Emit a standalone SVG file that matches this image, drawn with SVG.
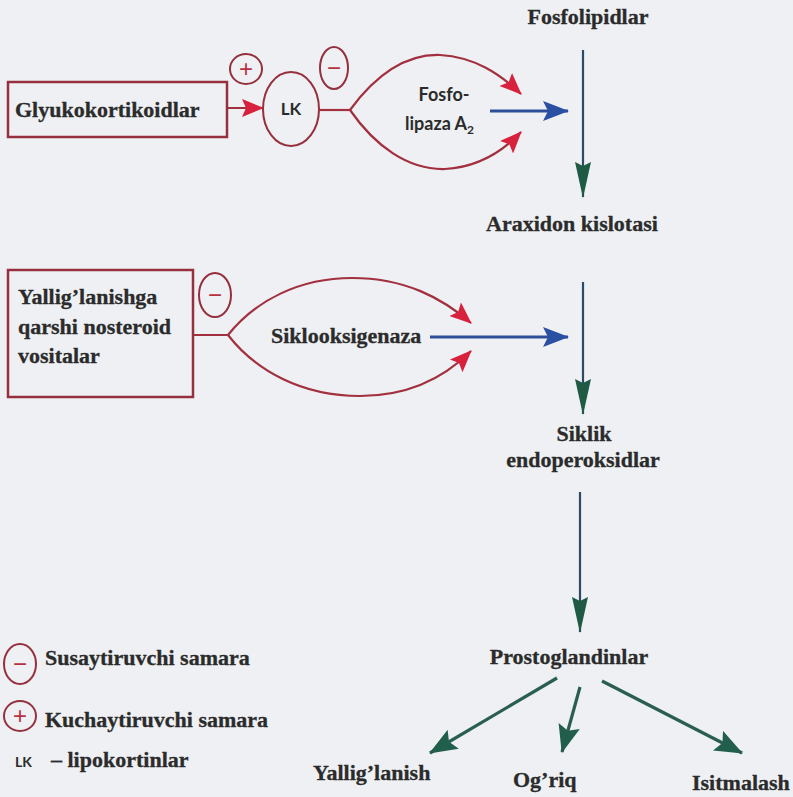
<svg xmlns="http://www.w3.org/2000/svg" width="793" height="797" viewBox="0 0 793 797">
  <defs>
    <marker id="redHead" markerUnits="userSpaceOnUse" viewBox="0 0 22 18" markerWidth="22" markerHeight="18" refX="21" refY="9" orient="auto">
      <path d="M0,0 L22,9 L0,18 L4,9 z" fill="#d8213c"/>
    </marker>
    <marker id="blueHead" markerUnits="userSpaceOnUse" viewBox="0 0 26 20" markerWidth="26" markerHeight="20" refX="25" refY="10" orient="auto">
      <path d="M0,0 L26,10 L0,20 L5,10 z" fill="#2a4fa3"/>
    </marker>
    <marker id="vHead" markerUnits="userSpaceOnUse" viewBox="0 0 36 16" markerWidth="36" markerHeight="16" refX="35" refY="8" orient="auto">
      <path d="M0,0 L36,8 L0,16 L4,8 z" fill="#1e5a44"/>
    </marker>
    <marker id="gHead" markerUnits="userSpaceOnUse" viewBox="0 0 28 22" markerWidth="28" markerHeight="22" refX="27" refY="11" orient="auto">
      <path d="M0,0 L28,11 L0,22 L5,11 z" fill="#225e4c"/>
    </marker>
    <style>
      .serif { font-family: "Liberation Serif", "Times New Roman", serif; font-weight: bold; font-size: 22px; fill: #2b2b2b; stroke: #2b2b2b; stroke-width: 0.3; }
      .sans { font-family: Lato, "Open Sans", "Liberation Sans", sans-serif; font-weight: bold; fill: #2b2b2b; }
      .box { fill: none; stroke: #96303e; stroke-width: 2.5; }
      .ring { fill: none; stroke: #96303e; stroke-width: 2; }
      .sym { font-family: "Liberation Sans", Arial, sans-serif; font-size: 24px; fill: #b8303f; text-anchor: middle; }
      .red { fill: none; stroke: #a2303f; stroke-width: 2.2; }
      .blue { fill: none; stroke: #2f4f98; stroke-width: 3; }
      .vert { fill: none; stroke: #2d4b66; stroke-width: 2.2; }
      .green { fill: none; stroke: #2a5e52; stroke-width: 3.2; }
      .mid { text-anchor: middle; }
    </style>
  </defs>

  <rect x="0" y="0" width="793" height="797" fill="#eef0f3"/>

  <g id="connectors">
    <path class="red" d="M227,108 L263,108" marker-end="url(#redHead)"/>
    <path class="red" d="M319,110 L350,110"/>
    <path class="red" d="M350,110 C375,76 405,54 440,55 C475,57 500,74 521,94" marker-end="url(#redHead)"/>
    <path class="red" d="M350,110 C375,146 408,170 445,169 C480,167 504,150 521,132" marker-end="url(#redHead)"/>
    <path class="blue" d="M490,111 L568,111" marker-end="url(#blueHead)"/>
    <path class="red" d="M193,335 L228,335"/>
    <path class="red" d="M228,335 C256,300 300,278 352,278 C405,278 442,298 471,323" marker-end="url(#redHead)"/>
    <path class="red" d="M228,335 C256,371 302,396 360,396 C412,396 446,376 471,351" marker-end="url(#redHead)"/>
    <path class="blue" d="M430,337 L568,337" marker-end="url(#blueHead)"/>
    <path class="vert" d="M583,50 L583,197" marker-end="url(#vHead)"/>
    <path class="vert" d="M583,282 L583,414" marker-end="url(#vHead)"/>
    <path class="vert" d="M580,492 L580,632" marker-end="url(#vHead)"/>
    <path class="green" d="M557,678 L430,753" marker-end="url(#gHead)"/>
    <path class="green" d="M580,687 L562,752" marker-end="url(#gHead)"/>
    <path class="green" d="M602,681 L742,753" marker-end="url(#gHead)"/>
  </g>

  <g id="glyukokortikoidlar">
    <rect class="box" x="8" y="82" width="219" height="55"/>
    <text class="serif" x="15" y="117">Glyukokortikoidlar</text>
  </g>

  <g id="plus-effect">
    <ellipse class="ring" cx="246" cy="69" rx="16" ry="15"/>
    <text class="sym" x="246" y="77">+</text>
  </g>

  <g id="lk">
    <ellipse class="ring" cx="291" cy="109" rx="28" ry="37" stroke-width="2.5"/>
    <text class="sans mid" x="291" y="115" font-size="17">LK</text>
  </g>

  <g id="minus-effect-lk">
    <ellipse class="ring" cx="334" cy="68" rx="14" ry="21"/>
    <text class="sym" x="334" y="76">−</text>
  </g>

  <g id="fosfolipaza">
    <text class="sans mid" x="444" y="101" font-size="18">Fosfo-</text>
    <text class="sans" x="405" y="130" font-size="18">lipaza A<tspan font-size="12" dy="4">2</tspan></text>
  </g>

  <g id="fosfolipidlar">
    <text class="serif mid" x="588" y="24">Fosfolipidlar</text>
  </g>

  <g id="araxidon">
    <text class="serif mid" x="572" y="231">Araxidon kislotasi</text>
  </g>

  <g id="nsaid">
    <rect class="box" x="8" y="270" width="185" height="127"/>
    <text class="serif" x="18" y="304">Yallig’lanishga</text>
    <text class="serif" x="18" y="334">qarshi nosteroid</text>
    <text class="serif" x="18" y="363">vositalar</text>
  </g>

  <g id="minus-effect-nsaid">
    <ellipse class="ring" cx="215" cy="295" rx="16" ry="22"/>
    <text class="sym" x="215" y="303">−</text>
  </g>

  <g id="siklooksigenaza">
    <text class="serif" x="271" y="343">Siklooksigenaza</text>
  </g>

  <g id="siklik">
    <text class="serif mid" x="584" y="441">Siklik</text>
    <text class="serif mid" x="583" y="467">endoperoksidlar</text>
  </g>

  <g id="prostoglandinlar">
    <text class="serif mid" x="569" y="664">Prostoglandinlar</text>
  </g>

  <g id="yalliglanish">
    <text class="serif" x="313" y="780">Yallig’lanish</text>
  </g>

  <g id="ogriq">
    <text class="serif" x="513" y="787">Og’riq</text>
  </g>

  <g id="isitmalash">
    <text class="serif" x="692" y="790">Isitmalash</text>
  </g>

  <g id="legend">
    <ellipse class="ring" cx="20" cy="664" rx="16" ry="20"/>
    <text class="sym" x="20" y="672">−</text>
    <text class="serif" x="45" y="665">Susaytiruvchi samara</text>
    <ellipse class="ring" cx="20" cy="716" rx="16" ry="15"/>
    <text class="sym" x="20" y="724">+</text>
    <text class="serif" x="45" y="727">Kuchaytiruvchi samara</text>
    <text class="sans" x="15" y="767" font-size="14">LK</text>
    <text class="serif" x="51" y="767">– lipokortinlar</text>
  </g>
</svg>
